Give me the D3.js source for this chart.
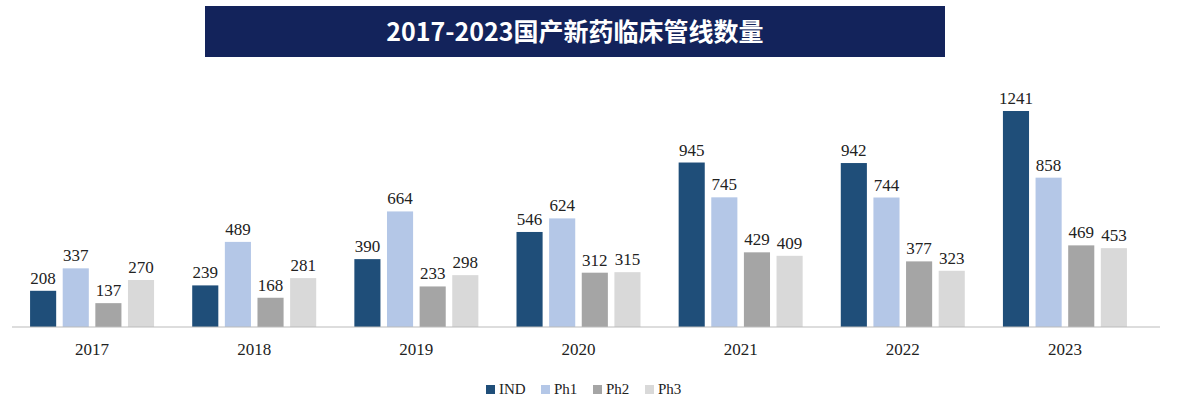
<!DOCTYPE html>
<html><head><meta charset="utf-8">
<script src="https://cdn.jsdelivr.net/npm/d3@7"></script>
<style>body{margin:0;background:#fff}</style>
</head><body><div id="chart"></div>
<script>
const years = ["2017","2018","2019","2020","2021","2022","2023"];
const series = ["IND","Ph1","Ph2","Ph3"];
const IND = [208,239,390,546,945,942,1241];
const Ph1 = [337,489,664,624,745,744,858];
const Ph2 = [137,168,233,312,429,377,469];
const Ph3 = [270,281,298,315,409,323,453];
const colors = ["#1f4e79","#b4c7e7","#a5a5a5","#d9d9d9"];

const width = 1185, height = 414;
const svg = d3.select("#chart").append("svg").attr("width", width).attr("height", height);

svg.append("rect").attr("x",205).attr("y",6).attr("width",740).attr("height",51).attr("fill","#13235b");
svg.append("text").attr("x",575).attr("y",41).attr("text-anchor","middle")
  .attr("fill","#fff").attr("font-family","Noto Sans CJK SC").attr("font-weight","bold")
  .attr("font-size",25).text("2017-2023国产新药临床管线数量");

const x = d3.scaleBand().domain(years).range([11,1146]);
const xs = d3.scaleBand().domain(series).range([x.bandwidth()/2-62, x.bandwidth()/2+62]).paddingInner(0.2);
const y = d3.scaleLinear().domain([0,1241]).range([327,111]);

const data = [IND,Ph1,Ph2,Ph3];
const g = svg.append("g");
years.forEach((yr,i)=>{
  series.forEach((s,j)=>{
    const v = data[j][i];
    const bx = x(yr)+xs(s);
    g.append("rect").attr("x",bx).attr("y",y(v)).attr("width",xs.bandwidth())
      .attr("height",y(0)-y(v)).attr("fill",colors[j]);
    g.append("text").attr("x",bx+xs.bandwidth()/2).attr("y",y(v)-7)
      .attr("text-anchor","middle").attr("font-family","Liberation Serif")
      .attr("font-size",17).attr("fill","#222").text(v);
  });
});

const ax = svg.append("g").attr("transform","translate(0,327)")
  .call(d3.axisBottom(x).tickSize(0).tickPadding(16));
ax.select(".domain").attr("stroke","#bbb").attr("d","M12,0H1160");
ax.selectAll("text").attr("font-family","Liberation Serif").attr("font-size",17).attr("fill","#222");

const leg = svg.append("g").attr("transform","translate(486,390)");
let lx = 0;
series.forEach((s,j)=>{
  leg.append("rect").attr("x",lx).attr("y",-5).attr("width",9).attr("height",9).attr("fill",colors[j]);
  leg.append("text").attr("x",lx+13).attr("y",4).attr("font-family","Liberation Serif")
    .attr("font-size",15).attr("fill","#222").text(s);
  lx += s==="IND" ? 55 : 52;
});
</script></body></html>
